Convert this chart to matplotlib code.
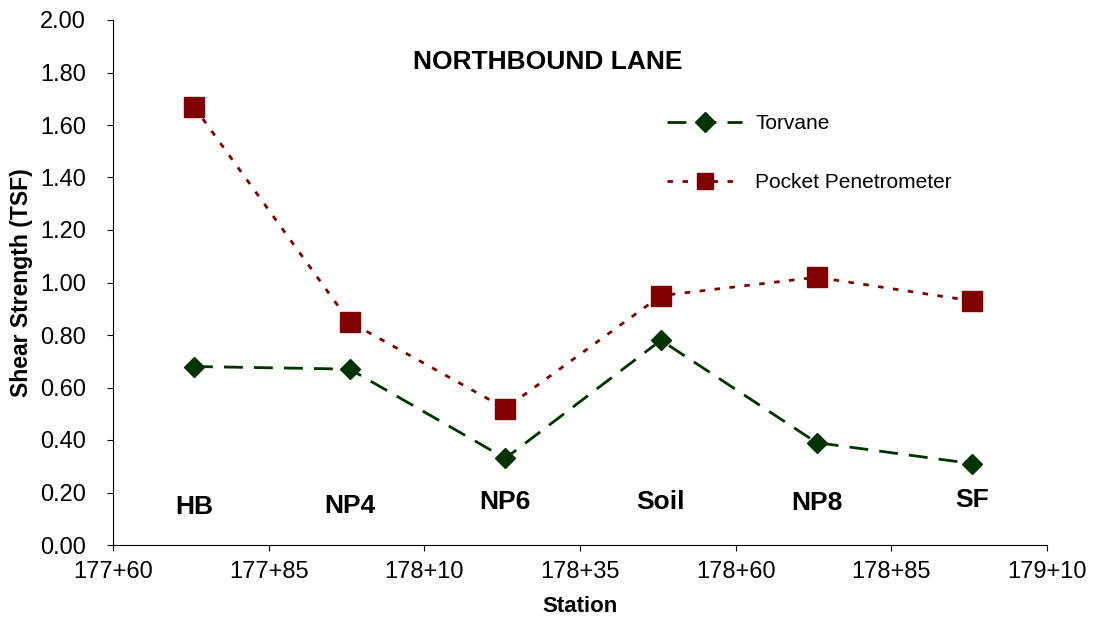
import matplotlib
matplotlib.use("Agg")
import matplotlib.pyplot as plt
from matplotlib.lines import Line2D

plt.rcParams['font.family'] = ['Liberation Sans', 'DejaVu Sans']

# station in feet (177+73 -> 17773)
stations = [17773, 17798, 17823, 17848, 17873, 17898]
names = ['HB', 'NP4', 'NP6', 'Soil', 'NP8', 'SF']
name_y = [0.145, 0.149, 0.164, 0.164, 0.16, 0.171]
torvane = [0.68, 0.67, 0.33, 0.78, 0.39, 0.31]
pocket = [1.67, 0.85, 0.52, 0.95, 1.02, 0.93]
xticks = [17760, 17785, 17810, 17835, 17860, 17885, 17910]

green = '#003300'
red = '#800000'
tv_style = dict(color=green, ls=(0, (6.8, 4)), lw=2, marker='D')
pp_style = dict(color=red, ls=(0, (2, 3.4)), lw=2, marker='s')

fig = plt.figure(figsize=(10.94, 6.19), dpi=100)
ax = fig.add_axes([113/1094, 1-545/619, (1047-113)/1094, (545-20)/619])

ax.plot(stations, torvane, ms=10.5, **tv_style)
ax.plot(stations, pocket, ms=15, **pp_style)

for x, y, n in zip(stations, name_y, names):
    ax.text(x, y, n, ha='center', va='center', fontsize=19, fontweight='bold')

ax.text(0.466, 0.92, 'NORTHBOUND LANE', transform=ax.transAxes,
        ha='center', va='center', fontsize=19, fontweight='bold')

ax.set_xlim(17760, 17910)
ax.set_ylim(0, 2.0)
ax.set_xticks(xticks)
ax.set_xticklabels([f"{v // 100}+{v % 100:02d}" for v in xticks], fontsize=17)
ax.set_yticks([i * 0.2 for i in range(11)])
ax.set_yticklabels([f"{i * 0.2:.2f}" for i in range(11)], fontsize=17)
ax.tick_params(direction='out', length=4.3, width=0.8)
ax.tick_params(axis='x', pad=7)
ax.tick_params(axis='y', pad=15)
for s in ['top', 'right']:
    ax.spines[s].set_visible(False)
ax.set_xlabel('Station', fontsize=16, fontweight='bold')
ax.set_ylabel('Shear Strength (TSF)', fontsize=16.5, fontweight='bold')
ax.xaxis.set_label_coords(0.5, -0.097)
ax.yaxis.set_label_coords(-0.0857, 0.5)

handles = [Line2D([], [], ms=10.5, label='Torvane', **tv_style),
           Line2D([], [], ms=12, label='Pocket Penetrometer', **pp_style)]
ax.legend(handles=handles, loc='upper left', bbox_to_anchor=(657/1094, 1-104/619),
          bbox_transform=fig.transFigure, frameon=False, borderpad=0,
          fontsize=15, handlelength=3.6, labelspacing=1.9, handletextpad=0.62)

fig.savefig('out.png', dpi=100)
